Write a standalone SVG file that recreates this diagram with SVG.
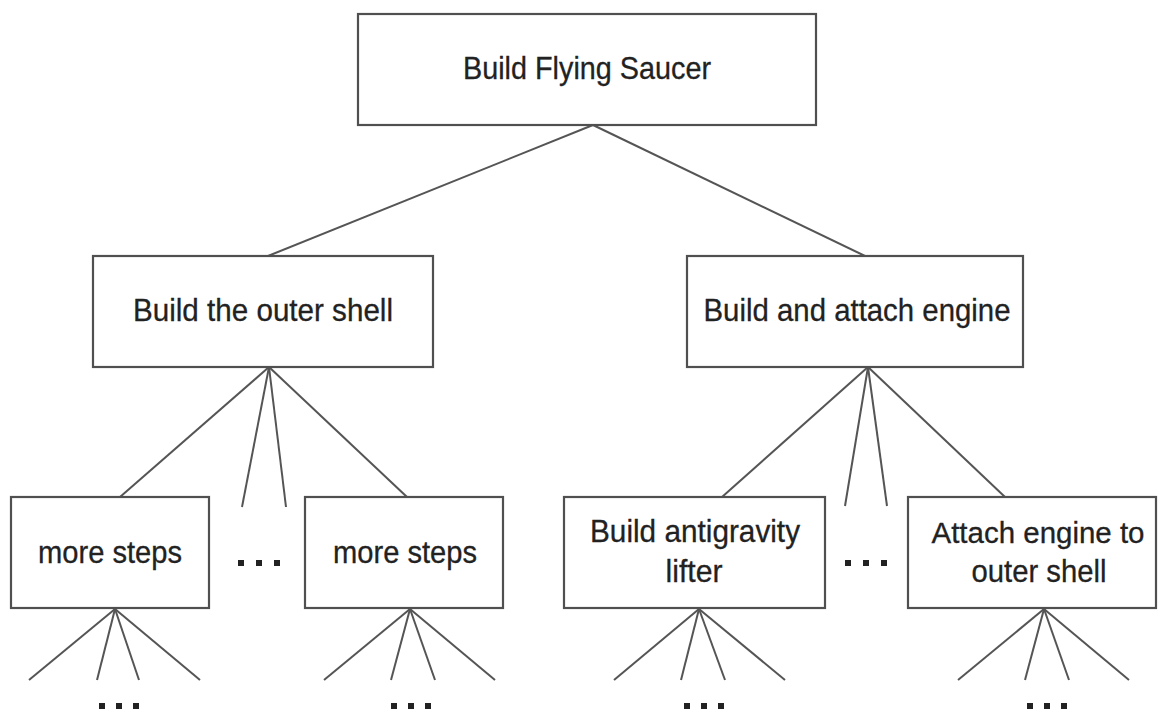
<svg xmlns="http://www.w3.org/2000/svg" width="1158" height="709" viewBox="0 0 1158 709">
<style>
.box{fill:#fff;stroke:#505050;stroke-width:2.2}
.t{font-family:"Liberation Sans",Arial,sans-serif;font-size:32px;fill:#222;stroke:#222;stroke-width:0.3;text-anchor:middle}
.s{font-size:30px}
.c line{stroke:#555;stroke-width:2}
.dot{fill:#222}
</style>
<rect width="1158" height="709" fill="#fff"/>
<g id="connectors" class="c">
<line x1="593" y1="125" x2="268" y2="256"/>
<line x1="593" y1="125" x2="865" y2="256"/>
<line x1="269" y1="367" x2="120" y2="497"/>
<line x1="269" y1="367" x2="242" y2="507"/>
<line x1="269" y1="367" x2="286" y2="507"/>
<line x1="269" y1="367" x2="407" y2="497"/>
<line x1="868" y1="367" x2="722" y2="497"/>
<line x1="868" y1="367" x2="845" y2="506"/>
<line x1="868" y1="367" x2="887" y2="506"/>
<line x1="868" y1="367" x2="1005" y2="497"/>
<line x1="115" y1="609" x2="29" y2="680"/>
<line x1="115" y1="609" x2="97" y2="680"/>
<line x1="115" y1="609" x2="139" y2="680"/>
<line x1="115" y1="609" x2="200" y2="680"/>
<line x1="410" y1="609" x2="324" y2="680"/>
<line x1="410" y1="609" x2="391" y2="680"/>
<line x1="410" y1="609" x2="435" y2="680"/>
<line x1="410" y1="609" x2="495" y2="680"/>
<line x1="699" y1="609" x2="614" y2="680"/>
<line x1="699" y1="609" x2="681" y2="680"/>
<line x1="699" y1="609" x2="725" y2="680"/>
<line x1="699" y1="609" x2="785" y2="680"/>
<line x1="1044" y1="609" x2="958" y2="680"/>
<line x1="1044" y1="609" x2="1025" y2="680"/>
<line x1="1044" y1="609" x2="1069" y2="680"/>
<line x1="1044" y1="609" x2="1129" y2="680"/>
</g>
<g id="root">
<rect class="box" x="358" y="14" width="458" height="111"/>
<text class="t" x="587" y="79" textLength="248" lengthAdjust="spacingAndGlyphs">Build Flying Saucer</text>
</g>
<g id="outer-shell">
<rect class="box" x="93" y="256" width="340" height="111"/>
<text class="t" x="263" y="321" textLength="260" lengthAdjust="spacingAndGlyphs">Build the outer shell</text>
</g>
<g id="engine">
<rect class="box" x="687" y="256" width="336" height="111"/>
<text class="t" x="857" y="321" textLength="307" lengthAdjust="spacingAndGlyphs">Build and attach engine</text>
</g>
<g id="steps1">
<rect class="box" x="11" y="497" width="198" height="111"/>
<text class="t" x="110" y="563" textLength="144" lengthAdjust="spacingAndGlyphs">more steps</text>
</g>
<g id="steps2">
<rect class="box" x="305" y="497" width="198" height="111"/>
<text class="t" x="405" y="563" textLength="144" lengthAdjust="spacingAndGlyphs">more steps</text>
</g>
<g id="antigravity">
<rect class="box" x="564" y="497" width="261" height="111"/>
<text class="t" x="695" y="542" textLength="210" lengthAdjust="spacingAndGlyphs">Build antigravity</text>
<text class="t" x="694" y="582" textLength="57" lengthAdjust="spacingAndGlyphs">lifter</text>
</g>
<g id="attach">
<rect class="box" x="908" y="497" width="248" height="111"/>
<text class="t s" x="1038" y="543" textLength="213" lengthAdjust="spacingAndGlyphs">Attach engine to</text>
<text class="t" x="1039" y="582" textLength="135" lengthAdjust="spacingAndGlyphs">outer shell</text>
</g>
<g id="ellipses">
<rect class="dot" x="238" y="560" width="6" height="6"/>
<rect class="dot" x="256" y="560" width="6" height="6"/>
<rect class="dot" x="274" y="560" width="6" height="6"/>
<rect class="dot" x="845" y="560" width="6" height="6"/>
<rect class="dot" x="863" y="560" width="6" height="6"/>
<rect class="dot" x="881" y="560" width="6" height="6"/>
<rect class="dot" x="99" y="703" width="6" height="8"/>
<rect class="dot" x="116" y="703" width="6" height="8"/>
<rect class="dot" x="133" y="703" width="6" height="8"/>
<rect class="dot" x="391" y="703" width="6" height="8"/>
<rect class="dot" x="408" y="703" width="6" height="8"/>
<rect class="dot" x="425" y="703" width="6" height="8"/>
<rect class="dot" x="684" y="703" width="6" height="8"/>
<rect class="dot" x="701" y="703" width="6" height="8"/>
<rect class="dot" x="718" y="703" width="6" height="8"/>
<rect class="dot" x="1027" y="703" width="6" height="8"/>
<rect class="dot" x="1044" y="703" width="6" height="8"/>
<rect class="dot" x="1061" y="703" width="6" height="8"/>
</g>
</svg>
